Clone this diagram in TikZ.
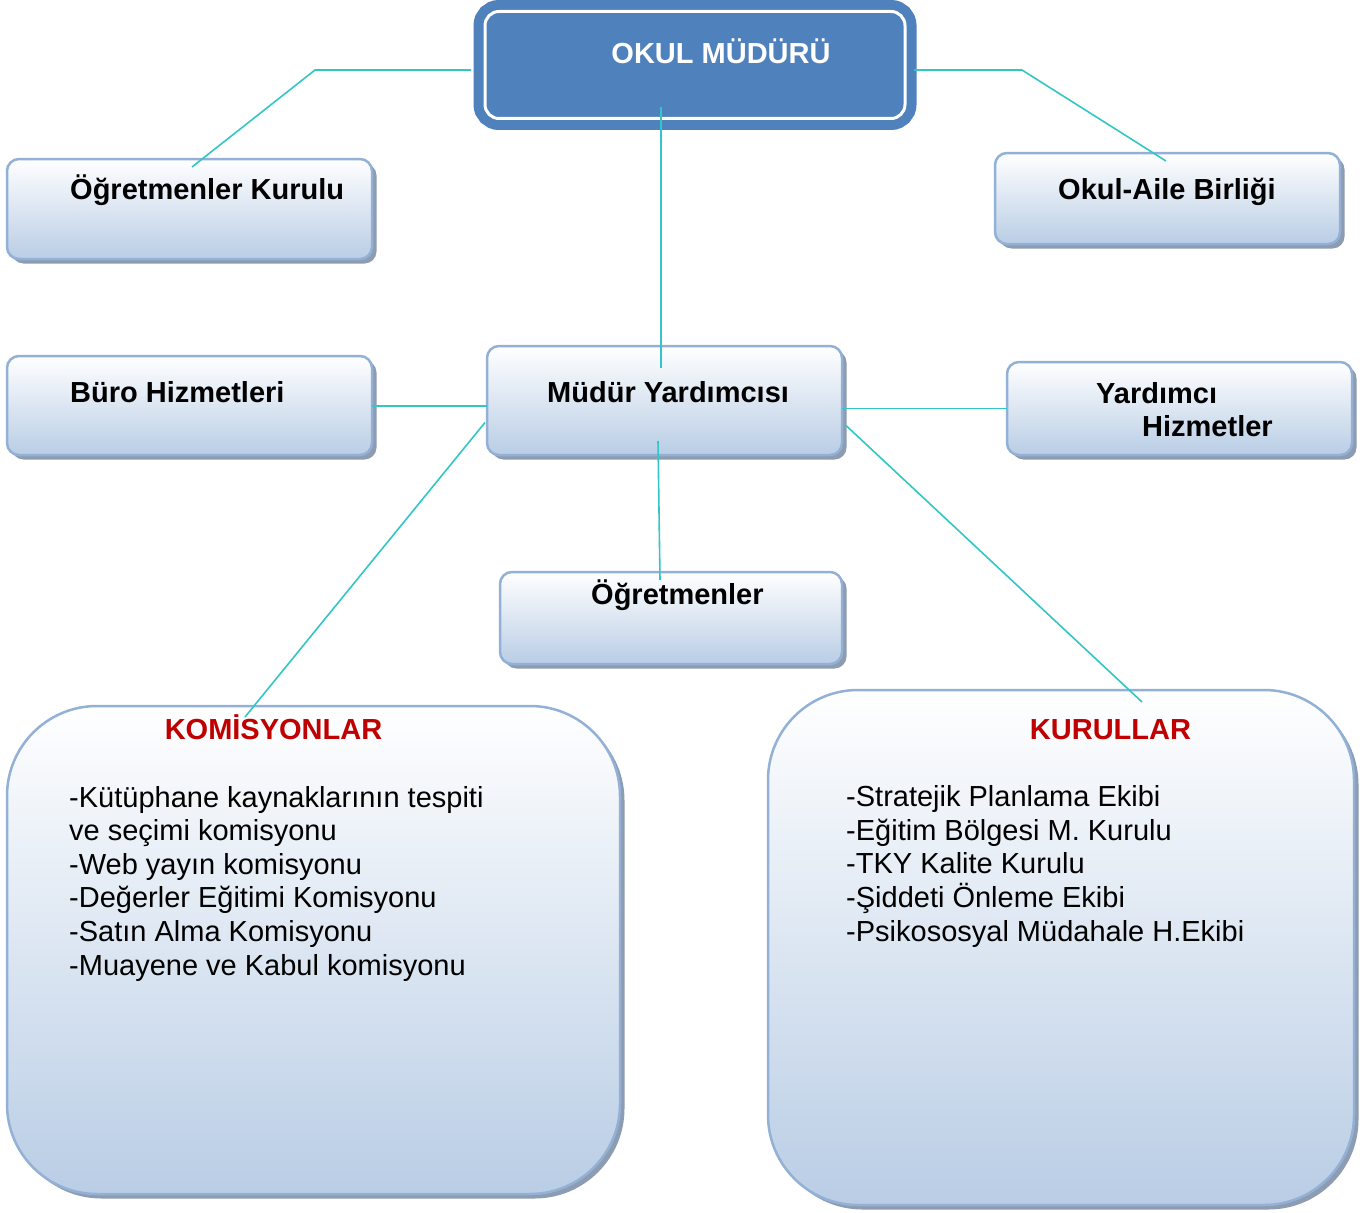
\documentclass[tikz,border=0pt]{standalone}
\usepackage{fontspec}
\setmainfont{Liberation Sans}
\usetikzlibrary{shadows}
\definecolor{okulblue}{HTML}{4F81BD}
\definecolor{boxedge}{HTML}{93B1D6}
\definecolor{boxfill}{HTML}{B9CDE5}
\definecolor{boxshade}{HTML}{8D9CB0}
\definecolor{linkteal}{HTML}{33C6C6}
\definecolor{titlered}{HTML}{C00000}
\tikzstyle{unitbox} = [rectangle, draw=boxedge, line width=2.5pt, rounded corners=12pt,
    top color=white, bottom color=boxfill, anchor=north west, inner sep=0pt, outer sep=0pt,
    general shadow={fill=boxshade, shadow xshift=4.5pt, shadow yshift=-4.5pt}]
\tikzstyle{groupbox} = [unitbox, rounded corners=90pt]
\tikzstyle{headbox} = [rectangle, fill=okulblue, draw=okulblue, line width=10pt, double=white,
    double distance=3pt, rounded corners=14pt, anchor=north west, inner sep=0pt, outer sep=0pt]
\tikzstyle{unitlabel} = [font=\fontsize{29}{33}\selectfont\bfseries, anchor=base west, inner sep=0pt]
\tikzstyle{grouptitle} = [font=\fontsize{29}{33}\selectfont\bfseries, text=titlered, anchor=base, inner sep=0pt]
\tikzstyle{listtext} = [font=\fontsize{29}{33.6}\selectfont, align=left, anchor=base west, inner sep=0pt]
\tikzstyle{link} = [draw=linkteal, line width=1.6pt]

\begin{document}
\begin{tikzpicture}[x=1pt, y=-1pt]
                \useasboundingbox (0,0) rectangle (1367,1212);
                \fill[white] (0,0) rectangle (1367,1212);
                % boxes
                \node [headbox, minimum width=420, minimum height=107] (okul) at (485,11.5) {};
                \node [unitbox, minimum width=365, minimum height=100] (kurulu) at (7,159) {};
                \node [unitbox, minimum width=345, minimum height=91] (aile) at (995,153) {};
                \node [unitbox, minimum width=365, minimum height=99] (buro) at (7,356) {};
                \node [unitbox, minimum width=355, minimum height=109] (mudur) at (487,346) {};
                \node [unitbox, minimum width=345, minimum height=93] (yard) at (1007,362) {};
                \node [unitbox, minimum width=342, minimum height=92] (ogret) at (500,572) {};
                \node [groupbox, minimum width=613, minimum height=488] (komisyon) at (7,706) {};
                \node [groupbox, minimum width=586, minimum height=515] (kurullar) at (768,690) {};
                % connectors
                \draw [link] ([shift={(-14pt,-5pt)}]okul.west) -- (315,70) -- ([shift={(2.5pt,-8pt)}]kurulu.north);
                \draw [link] ([shift={(9pt,-5pt)}]okul.east) -- (1022,70) -- ([shift={(-1.5pt,-8pt)}]aile.north);
                \draw [link] ([shift={(-34pt,11.5pt)}]okul.south) -- ([shift={(-3.5pt,-22pt)}]mudur.north);
                \draw [link] ([yshift=-0.5pt]buro.east) -- ([yshift=-0.5pt]buro.east -| mudur.west);
                \draw [link] (mudur.east |- yard.west) -- (yard.west);
                \draw [link] ([shift={(-2pt,-22pt)}]mudur.west) -- ([shift={(-68.5pt,-11pt)}]komisyon.north);
                \draw [link] ([shift={(4pt,-25pt)}]mudur.east) -- ([shift={(81pt,-12pt)}]kurullar.north);
                \draw [link] ([shift={(-6.5pt,14pt)}]mudur.south) -- ([shift={(-11pt,-8pt)}]ogret.north);
                % texts
                \node [unitlabel, text=white, anchor=base] (okul-t) at (721,64) {OKUL MÜDÜRÜ};
                \node [unitlabel] (kurulu-t) at (70,199) {Öğretmenler Kurulu};
                \node [unitlabel] (aile-t) at (1058,199) {Okul-Aile Birliği};
                \node [unitlabel] (buro-t) at (70,402) {Büro Hizmetleri};
                \node [unitlabel] (mudur-t) at (547,402) {Müdür Yardımcısı};
                \node [unitlabel, align=left] (yard-t) at (1096,436) {Yardımcı\\[0pt]\hspace*{46pt}Hizmetler};
                \node [unitlabel] (ogret-t) at (591,604) {Öğretmenler};
                \node [grouptitle] (komisyon-t) at (273.5,739) {KOMİSYONLAR};
                \node [grouptitle] (kurullar-t) at (1110.5,739) {KURULLAR};
                \node [listtext] (komisyon-l) at (69,975) {-Kütüphane kaynaklarının tespiti\\ve seçimi komisyonu\\-Web yayın komisyonu\\-Değerler Eğitimi Komisyonu\\-Satın Alma Komisyonu\\-Muayene ve Kabul komisyonu};
                \node [listtext] (kurullar-l) at (846,941) {-Stratejik Planlama Ekibi\\-Eğitim Bölgesi M. Kurulu\\-TKY Kalite Kurulu\\-Şiddeti Önleme Ekibi\\-Psikososyal Müdahale H.Ekibi};
            \end{tikzpicture}
\end{document}
